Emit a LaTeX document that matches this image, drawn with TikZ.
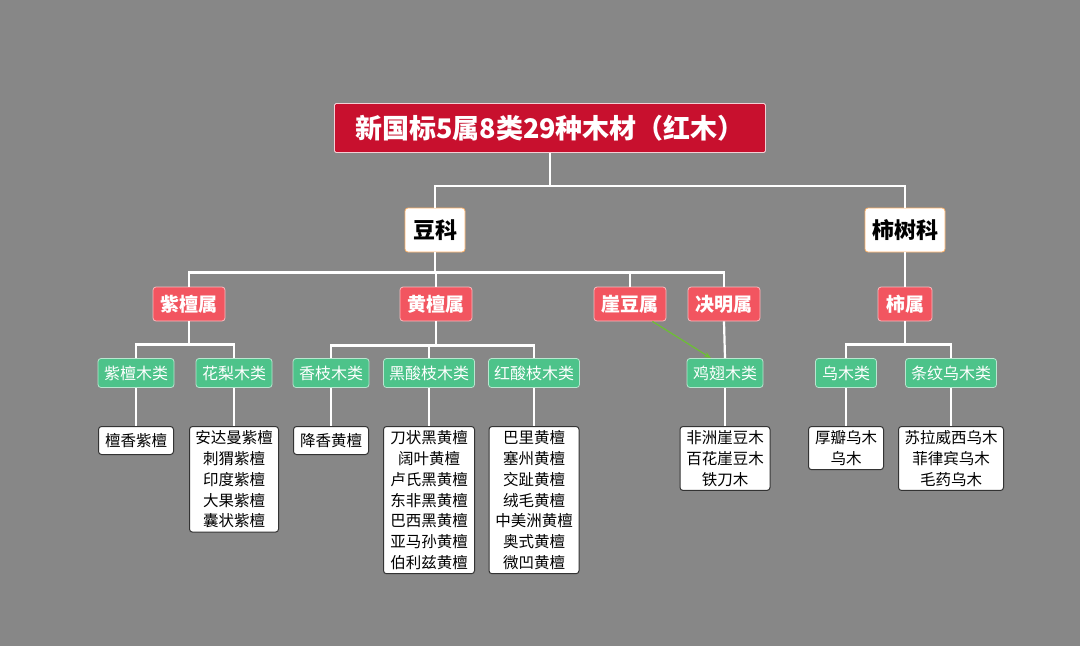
\documentclass[tikz,border=0pt]{standalone}
\usepackage{fontspec}
\setmainfont{Noto Sans CJK SC}
\usetikzlibrary{arrows.meta}
\definecolor{bg}{HTML}{878787}
\definecolor{titlered}{HTML}{C8102E}
\definecolor{genred}{HTML}{F25560}
\definecolor{clsgreen}{HTML}{4DC38A}
\definecolor{arrgreen}{HTML}{6CC033}
\tikzset{
  x=1pt,y=-1pt,
  titlebox/.style={fill=titlered,draw=white!80!titlered,line width=0.8pt,text=white,font=\fontsize{27}{30}\selectfont\bfseries,minimum height=49pt,inner xsep=6pt,rounded corners=1.5pt},
  famb/.style={fill=white,draw=orange!60!white,line width=0.8pt,text=black,font=\fontsize{22}{24}\selectfont\bfseries,minimum height=44pt,inner xsep=4pt,rounded corners=3pt},
  genb/.style={fill=genred,draw=white!60!genred,line width=0.8pt,text=white,font=\fontsize{19}{20}\selectfont\bfseries,minimum height=34pt,inner xsep=2pt,rounded corners=3pt},
  clsb/.style={fill=clsgreen,draw=white!60!clsgreen,line width=0.8pt,text=white,font=\fontsize{16}{17}\selectfont,minimum height=29pt,inner xsep=2pt,rounded corners=3pt},
  leafb/.style={fill=white,draw=black!80,line width=1pt,text=black,font=\fontsize{15.5}{20.8}\selectfont,align=center,anchor=north,inner xsep=2pt,inner ysep=4pt,minimum height=28pt,rounded corners=3pt},
  conn/.style={draw=white,line width=2.2pt},
}
\begin{document}
\begin{tikzpicture}
\fill[bg] (0,0) rectangle (1080,646);
\useasboundingbox (0,0) rectangle (1080,646);
\node[titlebox,minimum width=431pt] (t) at (550,128) {新国标5属8类29种木材（红木）};
\node[famb,minimum width=60pt] (d) at (435,230) {豆科};
\node[famb,minimum width=80pt] (s) at (905,230) {柿树科};
\node[genb,minimum width=72pt] (g1) at (189,304) {紫檀属};
\node[genb,minimum width=72pt] (g2) at (436,304) {黄檀属};
\node[genb,minimum width=72pt] (g3) at (630,304) {崖豆属};
\node[genb,minimum width=72pt] (g4) at (724,304) {决明属};
\node[genb,minimum width=54pt] (g5) at (905,304) {柿属};
\node[clsb,minimum width=76pt] (c1) at (136,373) {紫檀木类};
\node[clsb,minimum width=76pt] (c2) at (234,373) {花梨木类};
\node[clsb,minimum width=76pt] (c3) at (331,373) {香枝木类};
\node[clsb,minimum width=91pt] (c4) at (429,373) {黑酸枝木类};
\node[clsb,minimum width=91pt] (c5) at (534,373) {红酸枝木类};
\node[clsb,minimum width=76pt] (c6) at (725,373) {鸡翅木类};
\node[clsb,minimum width=61pt] (c7) at (846,373) {乌木类};
\node[clsb,minimum width=91pt] (c8) at (951,373) {条纹乌木类};
\node[leafb,minimum width=75pt] (l1) at (136,426) {檀香紫檀};
\node[leafb,minimum width=89pt] (l2) at (234,426) {安达曼紫檀\\刺猬紫檀\\印度紫檀\\大果紫檀\\囊状紫檀};
\node[leafb,minimum width=75pt] (l3) at (331,426) {降香黄檀};
\node[leafb,minimum width=91pt] (l4) at (429,426) {刀状黑黄檀\\阔叶黄檀\\卢氏黑黄檀\\东非黑黄檀\\巴西黑黄檀\\亚马孙黄檀\\伯利兹黄檀};
\node[leafb,minimum width=90pt] (l5) at (534,426) {巴里黄檀\\塞州黄檀\\交趾黄檀\\绒毛黄檀\\中美洲黄檀\\奥式黄檀\\微凹黄檀};
\node[leafb,minimum width=90pt] (l6) at (725,426) {非洲崖豆木\\百花崖豆木\\铁刀木};
\node[leafb,minimum width=75pt] (l7) at (846,426) {厚瓣乌木\\乌木};
\node[leafb,minimum width=105pt] (l8) at (951,426) {苏拉威西乌木\\菲律宾乌木\\毛药乌木};
\draw[conn] (t.south) -- ++(0,33) -| (d.north);
\draw[conn] (t.south) -- ++(0,33) -| (s.north);
\foreach \g in {g1,g2,g3,g4} \draw[conn] (d.south) -- ++(0,20) -| (\g.north);
\draw[conn] (s) -- (g5);
\draw[conn] (g1.south) -- ++(0,23) -| (c1.north);
\draw[conn] (g1.south) -- ++(0,23) -| (c2.north);
\foreach \c in {c3,c4,c5} \draw[conn] (g2.south) -- ++(0,24) -| (\c.north);
\draw[conn] (g4.south) -- (c6.north);
\draw[conn] (g5.south) -- ++(0,23) -| (c7.north);
\draw[conn] (g5.south) -- ++(0,23) -| (c8.north);
\foreach \a/\b in {c1/l1,c2/l2,c3/l3,c4/l4,c5/l5,c6/l6,c7/l7,c8/l8} \draw[conn] (\a.south) -- (\b.north);
\coordinate (ga) at ([xshift=-14pt]g3.south east);
\coordinate (gb) at ([xshift=-14pt]c6.north);
\draw[arrgreen,line width=1.2pt,-{Stealth[length=7pt]}] (ga) -- (gb);
\end{tikzpicture}
\end{document}
